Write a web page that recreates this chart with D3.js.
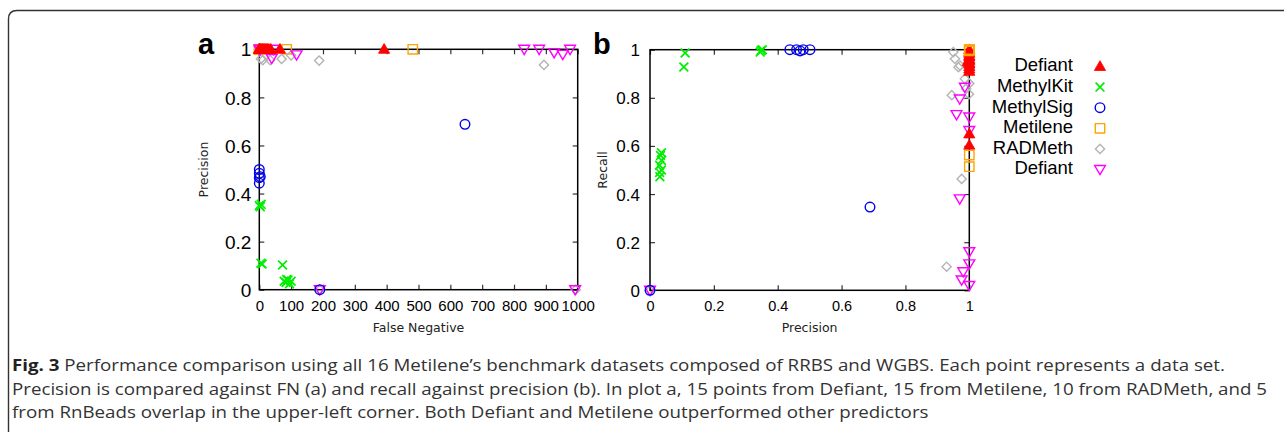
<!DOCTYPE html>
<html>
<head>
<meta charset="utf-8">
<script src="https://cdn.jsdelivr.net/npm/d3@7"></script>
<style>
  html, body { margin: 0; padding: 0; background: #fff; }
  svg { display: block; }
</style>
</head>
<body>
<svg id="chart" width="1284" height="432"></svg>
<script>
// legend order (the last "Defiant" is really RnBeads in the source figure)
const seriesNames = ['Defiant', 'MethylKit', 'MethylSig', 'Metilene', 'RADMeth', 'Defiant'];
const seriesColors = ['#ff0000', '#00ee00', '#0000ee', '#ffa500', '#b4b4b4', '#ff00ff'];
const seriesShapes = ['triangle', 'cross', 'circle', 'square', 'diamond', 'triangleDown'];

const fnTicks = [0, 100, 200, 300, 400, 500, 600, 700, 800, 900, 1000];
const unitTicks = [0, 0.2, 0.4, 0.6, 0.8, 1];

// plot a: [false negative, precision]
const defiantA = [[0, 1], [0, 1], [0, 1], [0, 1], [3, 1], [6, 1], [9, 1], [12, 1], [15, 1], [18, 1], [22, 1], [26, 1], [30, 1], [36, 1], [65, 1], [392, 1]];
const methylKitA = [[0, 0.35], [3, 0.345], [6, 0.355], [5, 0.11], [9, 0.107], [73, 0.103], [78, 0.035], [84, 0.03], [90, 0.04], [95, 0.025], [100, 0.035], [86, 0.042]];
const methylSigA = [[0, 0.5], [0, 0.484], [0, 0.466], [3, 0.47], [0, 0.443], [646, 0.688], [190, 0]];
const metileneA = [[0, 1], [0, 1], [0, 1], [0, 1], [0, 1], [0, 1], [1, 1], [2, 1], [3, 1], [86, 1], [482, 1]];
const radMethA = [[0, 1], [2, 1], [5, 0.96], [11, 0.955], [34, 0.955], [70, 0.96], [100, 0.975], [188, 0.953], [894, 0.935], [994, 0], [190, 0]];
const rnBeadsA = [[0, 1], [4, 1], [39, 0.962], [45, 1], [117, 0.977], [832, 1], [879, 1], [926, 0.986], [953, 0.979], [976, 1], [992, 0], [190, 0]];

// plot b: [precision, recall]
const defiantB = [[1, 1], [1, 0.99], [1, 0.985], [1, 0.975], [1, 0.97], [1, 0.96], [1, 0.955], [1, 0.945], [1, 0.94], [1, 0.93], [1, 0.92], [1, 0.91], [0.995, 0.95], [1, 0.65], [1, 0.603]];
const methylKitB = [[0.11, 0.986], [0.106, 0.928], [0.348, 0.997], [0.352, 1], [0.345, 0.99], [0.031, 0.472], [0.036, 0.5], [0.03, 0.52], [0.036, 0.54], [0.036, 0.572], [0.033, 0.56], [0.03, 0.49]];
const methylSigB = [[0, 0], [0.438, 1], [0.459, 1], [0.47, 0.995], [0.48, 1], [0.501, 1], [0.689, 0.346]];
const metileneB = [[1, 1], [1, 1], [1, 0.995], [1, 0.562], [1, 0.514]];
const radMethB = [[0.95, 0.99], [0.955, 0.962], [0.966, 0.927], [0.971, 0.934], [0.986, 0.879], [0.99, 0.838], [0.999, 0.815], [1, 0.86], [0.945, 0.811], [0.976, 0.463], [0.929, 0.098], [0, 0]];
const rnBeadsB = [[0.986, 0.844], [0.97, 0.795], [0.96, 0.73], [1, 0.72], [1, 0.664], [0.97, 0.38], [1, 0.16], [1, 0.11], [0.981, 0.077], [0.976, 0.043], [1, 0.02], [0, 0]];

const captionLines = [
  ['Fig. 3', ' Performance comparison using all 16 Metilene’s benchmark datasets composed of RRBS and WGBS. Each point represents a data set.'],
  ['', 'Precision is compared against FN (a) and recall against precision (b). In plot a, 15 points from Defiant, 15 from Metilene, 10 from RADMeth, and 5'],
  ['', 'from RnBeads overlap in the upper-left corner. Both Defiant and Metilene outperformed other predictors']
];

const svg = d3.select('#chart');

// outer frame of the figure box (cut at bottom and right)
svg.append('path')
  .attr('d', 'M8.5,432 V19 Q8.5,10.5 17,10.5 H1284')
  .attr('fill', 'none')
  .attr('stroke', '#333')
  .attr('stroke-width', 1.4);

function markerPath(shape) {
  switch (shape) {
    case 'triangle': return 'M0,-5.8L5.6,4L-5.6,4Z';
    case 'triangleDown': return 'M-5.4,-4L5.4,-4L0,5.2Z';
    case 'square': return 'M-4.7,-4.7H4.7V4.7H-4.7Z';
    case 'diamond': return 'M0,-4.6L4.6,0L0,4.6L-4.6,0Z';
    case 'cross': return 'M-4.4,-4.4L4.4,4.4M-4.4,4.4L4.4,-4.4';
    case 'circle': return 'M4.8,0A4.8,4.8 0 1 1 -4.8,0A4.8,4.8 0 1 1 4.8,0Z';
  }
}

function drawMarker(g, shape, color, x, y) {
  const filled = shape === 'triangle';
  g.append('path')
    .attr('transform', `translate(${x},${y})`)
    .attr('d', markerPath(shape))
    .attr('fill', filled ? color : 'none')
    .attr('stroke', color)
    .attr('stroke-width', shape === 'cross' ? 1.7 : (filled ? 0.8 : 1.4));
}

function drawPanel(opt) {
  const x = d3.scaleLinear().domain(opt.xDomain).range([opt.left, opt.right]);
  const y = d3.scaleLinear().domain([0, 1]).range([opt.bottom, opt.top]);
  const g = svg.append('g');

  const fmt = d => String(d);
  const axes = [
    [d3.axisBottom(x).tickValues(opt.xTicks), `translate(0,${opt.bottom})`, true],
    [d3.axisTop(x).tickValues(opt.xTicks), `translate(0,${opt.top})`, false],
    [d3.axisLeft(y).tickValues(unitTicks), `translate(${opt.left},0)`, true],
    [d3.axisRight(y).tickValues(unitTicks), `translate(${opt.right},0)`, false]
  ];
  axes.forEach(([axis, tr, labels], i) => {
    axis.tickSizeInner(-5).tickSizeOuter(0).tickFormat(labels ? fmt : '');
    const ag = g.append('g').attr('transform', tr).call(axis);
    ag.select('.domain').remove();
    ag.selectAll('line').attr('stroke', '#333').attr('stroke-width', 1.2);
    ag.selectAll('text')
      .attr('fill', '#000')
      .style('font-family', '"Liberation Sans", Arial, sans-serif');
    if (i === 0) {
      ag.selectAll('text').attr('y', 0).attr('dy', 0)
        .attr('transform', 'translate(0,21)')
        .style('font-size', opt.xTickSize + 'px');
    }
    if (i === 2) {
      ag.selectAll('text').attr('x', -opt.yGap).attr('dy', '0.35em')
        .style('font-size', opt.yTickSize + 'px');
    }
  });

  g.append('rect')
    .attr('x', opt.left).attr('y', opt.top)
    .attr('width', opt.right - opt.left).attr('height', opt.bottom - opt.top)
    .attr('fill', 'none').attr('stroke', '#000').attr('stroke-width', 1.5);

  // axis titles
  g.append('text')
    .attr('x', (opt.left + opt.right) / 2).attr('y', 331.5)
    .attr('text-anchor', 'middle')
    .style('font-family', '"DejaVu Sans", sans-serif').style('font-size', '12.5px')
    .attr('fill', '#222')
    .text(opt.xTitle);
  g.append('text')
    .attr('transform', `translate(${opt.yTitleX},${(opt.top + opt.bottom) / 2}) rotate(-90)`)
    .attr('text-anchor', 'middle').attr('dy', '0.35em')
    .style('font-family', '"DejaVu Sans", sans-serif').style('font-size', '12.5px')
    .attr('fill', '#222')
    .text(opt.yTitle);

  // panel letter
  g.append('text')
    .attr('x', opt.letterX).attr('y', 54)
    .style('font-family', '"Liberation Sans", Arial, sans-serif')
    .style('font-size', '29px').style('font-weight', 'bold')
    .text(opt.letter);

  // points, in drawing order
  opt.order.forEach(i => {
    opt.data[i].forEach(d => drawMarker(g, seriesShapes[i], seriesColors[i], x(d[0]), y(d[1])));
  });
}

drawPanel({
  letter: 'a', letterX: 198,
  left: 259.3, right: 577.7, top: 49.3, bottom: 289.7,
  xDomain: [0, 1000], xTicks: fnTicks,
  xTickSize: 15, yTickSize: 19, yGap: 8,
  xTitle: 'False Negative', yTitle: 'Precision', yTitleX: 203.5,
  data: [defiantA, methylKitA, methylSigA, metileneA, radMethA, rnBeadsA],
  order: [3, 4, 5, 2, 1, 0]
});

drawPanel({
  letter: 'b', letterX: 593,
  left: 650, right: 969.3, top: 49.7, bottom: 290.3,
  xDomain: [0, 1], xTicks: unitTicks,
  xTickSize: 14.5, yTickSize: 17, yGap: 10,
  xTitle: 'Precision', yTitle: 'Recall', yTitleX: 602.5,
  data: [defiantB, methylKitB, methylSigB, metileneB, radMethB, rnBeadsB],
  order: [4, 5, 2, 1, 0, 3]
});

// legend
const legend = svg.append('g');
seriesNames.forEach((name, i) => {
  const ly = 65 + i * 20.6;
  legend.append('text')
    .attr('x', 1073).attr('y', ly).attr('dy', '0.35em')
    .attr('text-anchor', 'end')
    .style('font-family', '"Liberation Sans", Arial, sans-serif')
    .style('font-size', '18.5px')
    .text(name);
  drawMarker(legend, seriesShapes[i], seriesColors[i], 1100, ly + 1.5);
});

// caption: one condensed font, squeezed so the second line spans 12 -> 1267
const capY = [371, 394.5, 418];
const capNodes = captionLines.map(([bold, rest], i) => {
  const t = svg.append('text')
    .attr('x', 12).attr('y', capY[i])
    .style('font-family', '"Open Sans", sans-serif')
    .style('font-size', '15.5px')
    .attr('fill', '#333');
  if (bold) t.append('tspan').style('font-weight', 'bold').attr('fill', '#222').text(bold);
  t.append('tspan').text(rest);
  return t;
});
const squeeze = 1255 / capNodes[1].node().getComputedTextLength();
capNodes.forEach(t => {
  t.attr('textLength', t.node().getComputedTextLength() * squeeze)
    .attr('lengthAdjust', 'spacingAndGlyphs');
});
</script>
</body>
</html>
